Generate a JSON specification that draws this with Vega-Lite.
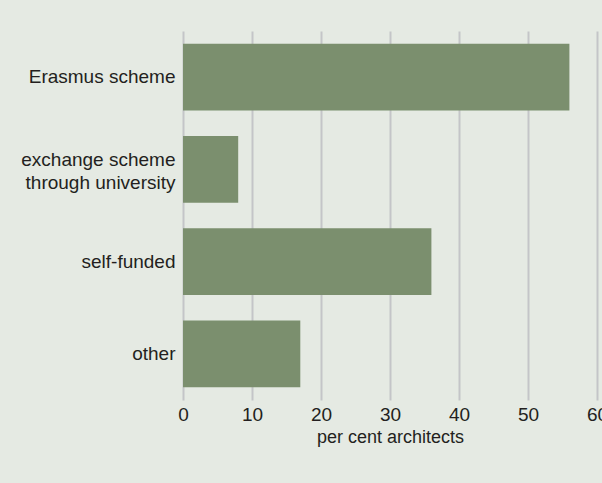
{
  "$schema": "https://vega.github.io/schema/vega-lite/v6.json",
  "autosize": {"type": "none"},
  "width": 414,
  "height": 369,
  "padding": {"left": 183, "top": 31, "right": 5, "bottom": 83},
  "background": "#e5eae3",
  "config": {
    "view": {"stroke": null},
    "font": "Liberation Sans",
    "axis": {"labelColor": "#231f20", "titleColor": "#231f20", "labelFont": "Liberation Sans", "titleFont": "Liberation Sans"}
  },
  "data": {
    "values": [
      {"source": "Erasmus scheme", "percent": 56},
      {"source": "exchange scheme through university", "percent": 8},
      {"source": "self-funded", "percent": 36},
      {"source": "other", "percent": 17}
    ]
  },
  "mark": {"type": "bar", "color": "#7b8f6e"},
  "encoding": {
    "y": {
      "field": "source",
      "type": "nominal",
      "sort": null,
      "scale": {"paddingInner": 0.274, "paddingOuter": 0.137},
      "axis": {
        "title": null,
        "domain": false,
        "ticks": false,
        "grid": false,
        "labelPadding": 8,
        "labelFontSize": 19,
        "labelLimit": 300,
        "labelLineHeight": 23,
        "labelOffset": {"condition": {"test": "datum.label == 'exchange scheme through university'", "value": -9}, "value": 0},
        "labelExpr": "datum.label == 'exchange scheme through university' ? ['exchange scheme', 'through university'] : datum.label"
      }
    },
    "x": {
      "field": "percent",
      "type": "quantitative",
      "scale": {"domain": [0, 60]},
      "axis": {
        "title": "per cent architects",
        "values": [0, 10, 20, 30, 40, 50, 60],
        "domain": false,
        "ticks": false,
        "grid": true,
        "gridColor": "#c4c5c8",
        "gridWidth": 2,
        "gridOpacity": 1,
        "labelFontSize": 19,
        "labelPadding": 5,
        "labelFlush": false,
        "titleFontSize": 18,
        "titleFontWeight": "normal",
        "titlePadding": 4
      }
    }
  }
}
